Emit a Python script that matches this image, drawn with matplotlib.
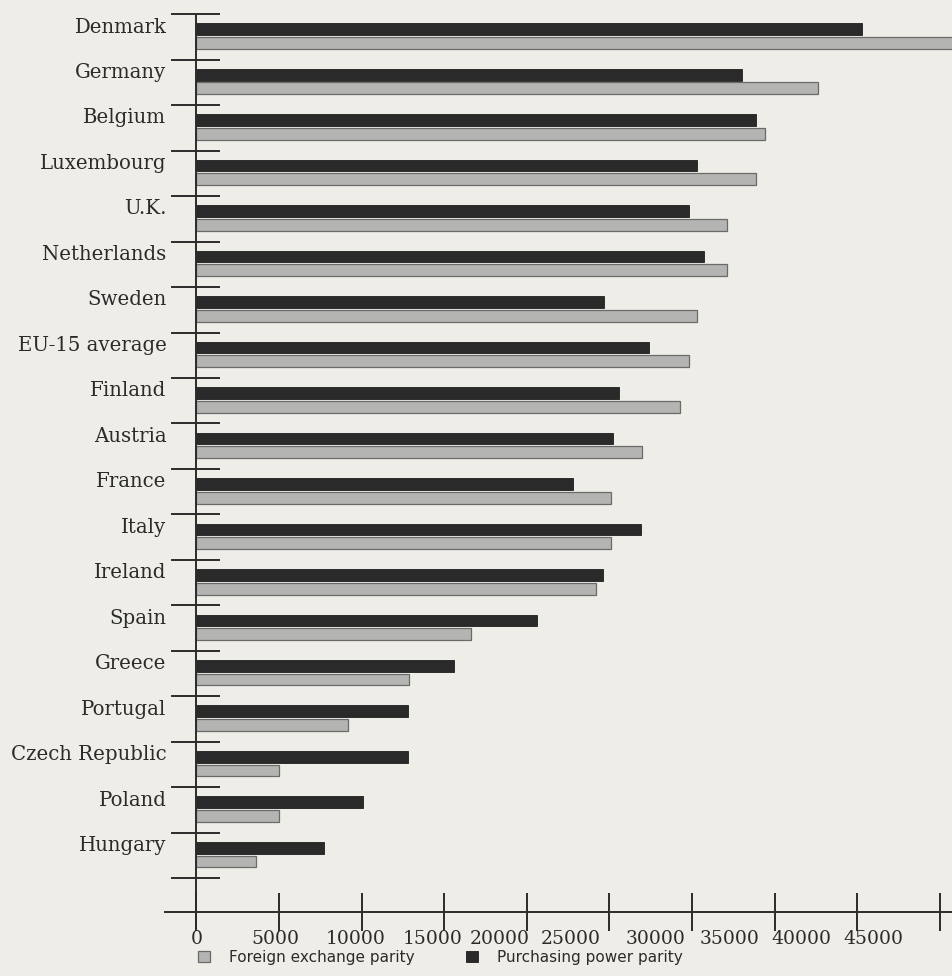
import matplotlib
matplotlib.use('Agg')
import matplotlib.pyplot as plt
import numpy as np

countries = ['Denmark', 'Germany', 'Belgium', 'Luxembourg', 'U.K.', 'Netherlands',
             'Sweden', 'EU-15 average', 'Finland', 'Austria', 'France', 'Italy',
             'Ireland', 'Spain', 'Greece', 'Portugal', 'Czech Republic', 'Poland',
             'Hungary']
# purchasing power parity (dark bars)
ppp = [40300, 33000, 33900, 30300, 29800, 30700, 24700, 27400, 25600, 25200,
       22800, 26900, 24600, 20600, 15600, 12800, 12800, 10100, 7700]
# foreign exchange parity (light bars)
fx = [47000, 37600, 34400, 33900, 32100, 32100, 30300, 29800, 29300, 27000,
      25100, 25100, 24200, 16600, 12900, 9200, 5000, 5000, 3600]
xticks = [0, 5000, 10000, 15000, 20000, 25000, 30000, 35000, 40000, 45000]
# the printed tick labels sit a little left of their tick marks
xlabel_pos = [0, 4780, 9620, 14280, 18330, 22660, 27770, 32280, 36600, 40960]

BG = '#efede7'
DARK = '#2a2a2a'
LIGHT = '#b4b4b2'
INK = '#2b2b2b'

plt.rcParams['font.family'] = ['DejaVu Serif']

fig = plt.figure(figsize=(9.53, 9.76), dpi=100, facecolor=BG)
ax = fig.add_axes([165 / 953, 1 - 912 / 976, 1 - 165 / 953, (912 - 10) / 976])
ax.set_facecolor(BG)

y = np.arange(len(countries))
h = 0.26
ax.barh(y + 0.33, ppp, height=h, color=DARK, edgecolor='#1e1e1e', lw=0.6,
        label='Purchasing power parity')
ax.barh(y + 0.63, fx, height=h, color=LIGHT, edgecolor='#6a6a6a', lw=0.9,
        label='Foreign exchange parity')

ax.set_xlim(-1900, 45800)
ax.set_ylim(19.74, -0.09)

# only the bottom line plus a vertical line at zero
for s in ['top', 'right', 'left']:
    ax.spines[s].set_visible(False)
ax.spines['bottom'].set_linewidth(1.4)
ax.spines['bottom'].set_color(INK)
ax.axvline(0, ymin=-0.02, ymax=0.995, color=INK, lw=1.4, clip_on=False)

# row boundaries: short lines crossing the zero line
for b in np.arange(len(countries) + 1):
    ax.plot([-1450, 1350], [b, b], color=INK, lw=1.4, clip_on=False)

ax.set_yticks([])
ax.set_yticks(y + 0.24, minor=True)
ax.set_yticklabels(countries, minor=True)
ax.tick_params(axis='y', which='minor', length=0, pad=-1, labelsize=14.2,
               labelcolor=INK)

ax.xaxis.remove_overlapping_locs = False
ax.set_xticks(xticks)
ax.set_xticklabels([])
ax.tick_params(axis='x', which='major', direction='inout', length=27,
               width=1.4, color=INK)
ax.set_xticks(xlabel_pos, minor=True)
ax.set_xticklabels([str(t) for t in xticks], minor=True)
ax.tick_params(axis='x', which='minor', length=0, pad=13, labelsize=13.5,
               labelcolor=INK)

handles, labels = ax.get_legend_handles_labels()
leg = fig.legend(handles[::-1], labels[::-1], loc='center', ncol=2,
                 bbox_to_anchor=(0.462, 0.019), frameon=False,
                 prop={'family': 'DejaVu Sans', 'size': 11},
                 handlelength=0.8, handleheight=0.8, columnspacing=3.4,
                 handletextpad=1.2)
for t in leg.get_texts():
    t.set_color(INK)

fig.savefig('out.png', dpi=100, facecolor=BG)
